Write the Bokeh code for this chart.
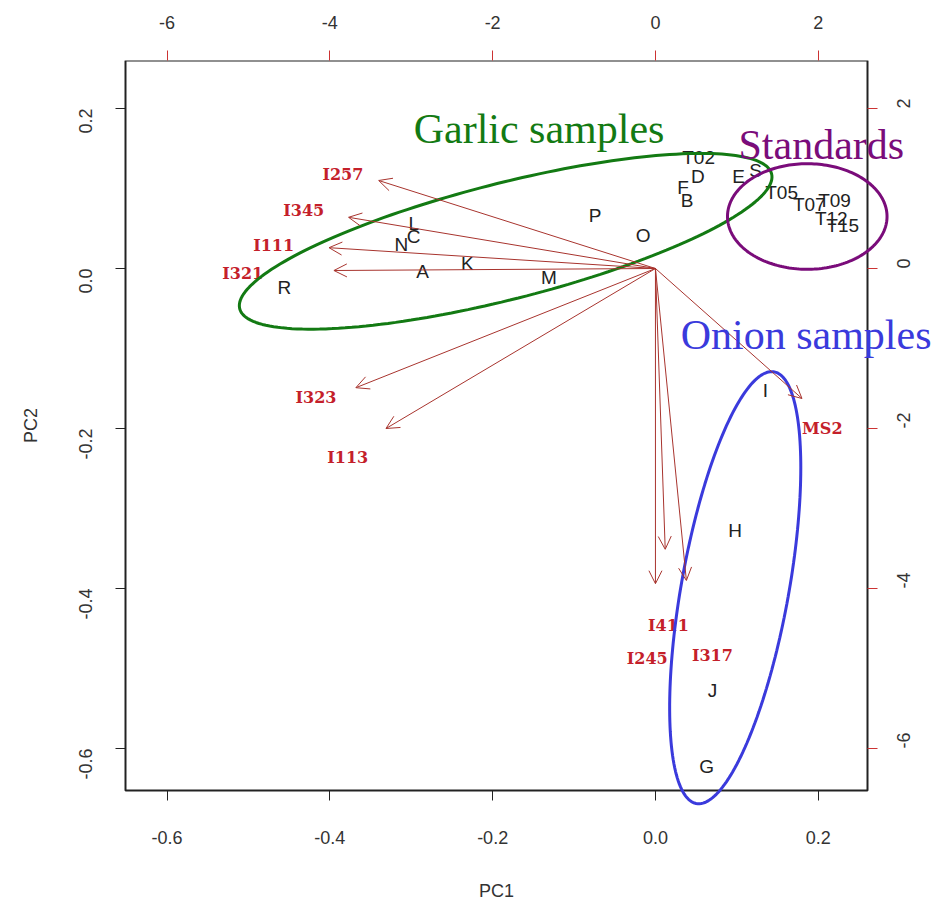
import math
import numpy as np
from bokeh.plotting import figure
from bokeh.models import (Range1d, LinearAxis, FixedTicker, NumeralTickFormatter,
                          Arrow, OpenHead, Label, PolyAnnotation, BoxAnnotation,
                          ColumnDataSource)
from bokeh.core.properties import value
from bokeh.embed import file_html
from bokeh.resources import INLINE

# ---- sample scores (PC1, PC2) ----
sample_names = ["R", "A", "K", "M", "N", "C", "L", "P", "O",
                "T02", "D", "F", "B", "E", "S", "T05", "T07", "T09", "T12", "T15",
                "I", "H", "J", "G"]
sample_pc1 = [-0.456, -0.286, -0.231, -0.131, -0.312, -0.297, -0.297, -0.074, -0.015,
              0.053, 0.052, 0.034, 0.039, 0.102, 0.123, 0.155, 0.189, 0.220, 0.216, 0.230,
              0.135, 0.098, 0.070, 0.063]
sample_pc2 = [-0.024, -0.004, 0.006, -0.011, 0.030, 0.040, 0.056, 0.066, 0.041,
              0.139, 0.115, 0.101, 0.085, 0.115, 0.1225, 0.095, 0.080, 0.085, 0.0625, 0.054,
              -0.1525, -0.3275, -0.5275, -0.6225]

# ---- variable loadings (secondary axes units) ----
var_names = ["I257", "I345", "I111", "I321", "I323", "I113", "MS2", "I245", "I411", "I317"]
var_x = [-3.40, -3.77, -4.01, -3.95, -3.68, -3.31, 1.80, 0.00, 0.12, 0.38]
var_y = [1.10, 0.64, 0.26, -0.025, -1.49, -2.00, -1.625, -3.94, -3.51, -3.90]
var_lab_x = [-3.84, -4.32, -4.69, -5.07, -4.17, -3.78, 2.05, -0.10, 0.16, 0.70]
var_lab_y = [1.175, 0.725, 0.29, -0.06, -1.61, -2.36, -2.00, -4.875, -4.46, -4.84]

# ---- axes ----
pc_ticks = [-0.6, -0.4, -0.2, 0.0, 0.2]
sec_ticks = [-6, -4, -2, 0, 2]
pc1_lim = [-0.651, 0.2605]
pc2_lim = [-0.6525, 0.26]
sec_scale = 10.0   # secondary (loadings) axes = 10 x primary
x_title = "PC1"
y_title = "PC2"

# ---- group annotations ----
group_names = ["Garlic samples", "Standards", "Onion samples"]
group_colors = ["#137a13", "#7a0c7a", "#3a3adc"]
group_text_x = [-0.297, 0.102, 0.031]
group_text_y = [0.175, 0.154, -0.0835]
ell_cx = [-0.184, 0.1865, 0.098]
ell_cy = [0.034, 0.065, -0.399]
ell_a = [0.3374, 0.098, 0.066]      # semi-axis along x before rotation
ell_b = [0.0725, 0.066, 0.274]      # semi-axis along y before rotation
ell_ang = [14.5, 0.0, -10.0]        # degrees

# The frame is extended past the drawn box (left / right / bottom) so that text
# and ellipses crossing the box are not clipped; the left, right and bottom axes
# are pinned to the box edges with fixed_location.
W, H = 932, 907
left_px, top_px = 125, 60
box_w, box_h = 742, 730
px_x = box_w / (pc1_lim[1] - pc1_lim[0])
px_y = box_h / (pc2_lim[1] - pc2_lim[0])
x_lo = pc1_lim[0] - left_px / px_x
x_hi = pc1_lim[1] + (W - left_px - box_w) / px_x
y_lo = pc2_lim[0] - (H - top_px - box_h) / px_y

p = figure(width=W, height=H, output_backend="svg", toolbar_location=None,
           x_range=Range1d(x_lo, x_hi), y_range=Range1d(y_lo, pc2_lim[1]),
           min_border_left=0, min_border_right=0, min_border_top=top_px,
           min_border_bottom=0)
p.extra_x_ranges = {"sec_x": Range1d(x_lo * sec_scale, x_hi * sec_scale)}
p.extra_y_ranges = {"sec_y": Range1d(y_lo * sec_scale, pc2_lim[1] * sec_scale)}
p.xgrid.visible = False
p.ygrid.visible = False
p.outline_line_color = None
p.background_fill_color = "white"
p.border_fill_color = "white"

FONT = "Liberation Sans"

def style_axis(ax, ticks, fmt=None, tick_color="#222222", orient=None, standoff=20):
    ax.ticker = FixedTicker(ticks=ticks)
    if fmt is not None:
        ax.formatter = fmt
    ax.axis_line_color = None
    ax.minor_tick_line_color = None
    ax.major_tick_in = 0
    ax.major_tick_out = 10
    ax.major_tick_line_color = tick_color
    ax.major_tick_line_width = 1
    ax.major_label_text_font = FONT
    ax.major_label_text_font_size = "18px"
    ax.major_label_text_color = "#333333"
    ax.major_label_standoff = standoff
    if orient is not None:
        ax.major_label_orientation = orient

xa = p.xaxis[0]
ya = p.yaxis[0]
xa.fixed_location = pc2_lim[0]
ya.fixed_location = pc1_lim[0]
style_axis(xa, pc_ticks, NumeralTickFormatter(format="0.0"), standoff=30)
style_axis(ya, pc_ticks, NumeralTickFormatter(format="0.0"), orient=math.pi / 2, standoff=30)

top = LinearAxis(x_range_name="sec_x")
style_axis(top, sec_ticks, NumeralTickFormatter(format="0"), tick_color="#cc3333", standoff=22)
p.add_layout(top, "above")
right = LinearAxis(y_range_name="sec_y", fixed_location=pc1_lim[1])
style_axis(right, sec_ticks, NumeralTickFormatter(format="0"), tick_color="#cc3333",
           orient=math.pi / 2, standoff=26)
p.add_layout(right, "right")

# ---- axis titles (centred on the box) ----
box_cx = (pc1_lim[0] + pc1_lim[1]) / 2
box_cy = (pc2_lim[0] + pc2_lim[1]) / 2
p.add_layout(Label(x=box_cx, y=pc2_lim[1] - (890 - top_px) / px_y, text=x_title,
                   text_font=FONT, text_font_size="18px", text_color="#333333",
                   text_align="center", text_baseline="middle"))
p.add_layout(Label(x=pc1_lim[0] - (left_px - 30) / px_x, y=box_cy, text=y_title,
                   angle=math.pi / 2, text_font=FONT, text_font_size="18px",
                   text_color="#333333", text_align="center", text_baseline="middle"))

# ---- plot box ----
p.add_layout(BoxAnnotation(left=pc1_lim[0], right=pc1_lim[1], bottom=pc2_lim[0],
                           top=pc2_lim[1], fill_color=None, fill_alpha=0,
                           line_color="#222222", line_alpha=1.0, line_width=2,
                           level="underlay"))

# ---- ellipses ----
t = np.linspace(0, 2 * np.pi, 200)
for cx, cy, a, b, ang, col in zip(ell_cx, ell_cy, ell_a, ell_b, ell_ang, group_colors):
    th = math.radians(ang)
    ex = a * np.cos(t)
    ey = b * np.sin(t)
    xs = cx + ex * math.cos(th) - ey * math.sin(th)
    ys = cy + ex * math.sin(th) + ey * math.cos(th)
    p.add_layout(PolyAnnotation(xs=list(xs), ys=list(ys), fill_color=None, fill_alpha=0,
                                line_color=col, line_alpha=1.0, line_width=3))

# ---- loading arrows ----
arrow_col = "#a8342e"
for vx, vy in zip(var_x, var_y):
    p.add_layout(Arrow(x_start=0, y_start=0, x_end=vx, y_end=vy,
                       x_range_name="sec_x", y_range_name="sec_y",
                       line_color=arrow_col, line_width=1,
                       end=OpenHead(size=13, line_color=arrow_col, line_width=1)))

var_src = ColumnDataSource(dict(x=var_lab_x, y=var_lab_y, t=var_names))
p.text(x="x", y="y", text="t", source=var_src, x_range_name="sec_x", y_range_name="sec_y",
       text_align="center", text_baseline="middle", text_color="#c4202a",
       text_font=value("DejaVu Serif"), text_font_style="bold", text_font_size="16px")

# ---- sample labels ----
smp_src = ColumnDataSource(dict(x=sample_pc1, y=sample_pc2, t=sample_names))
p.text(x="x", y="y", text="t", source=smp_src, text_align="center", text_baseline="middle",
       text_color="#222222", text_font=value(FONT), text_font_size="19px")

# ---- group titles ----
for name, col, gx, gy in zip(group_names, group_colors, group_text_x, group_text_y):
    p.add_layout(Label(x=gx, y=gy, text=name, text_color=col, text_font="Liberation Serif",
                       text_font_size="42px", text_align="left",
                       text_baseline="alphabetic"))

open("out.html", "w").write(file_html(p, INLINE))
